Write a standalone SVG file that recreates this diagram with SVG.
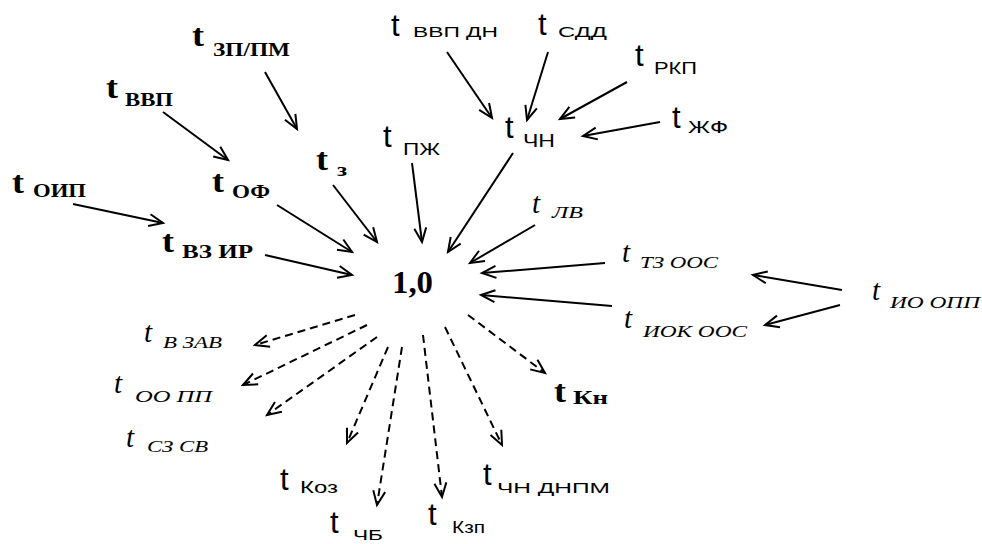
<svg xmlns="http://www.w3.org/2000/svg" width="982" height="544" viewBox="0 0 982 544">
<style>
.bg{fill:#fff}
.tb{font-family:"Liberation Serif",serif;font-weight:bold;font-size:32px;fill:#000}
.sb{font-family:"Liberation Serif",serif;font-weight:bold;font-size:18px;fill:#000}
.ts{font-family:"Liberation Sans",sans-serif;font-size:31px;fill:#000}
.ss{font-family:"Liberation Sans",sans-serif;fill:#000}
.ti{font-family:"Liberation Serif",serif;font-style:italic;font-size:29px;fill:#000}
.si{font-family:"Liberation Serif",serif;font-style:italic;font-size:16px;fill:#000}
.a{stroke:#000;stroke-width:2;fill:none;marker-end:url(#ah)}
.d{stroke:#000;stroke-width:2;fill:none;stroke-dasharray:8 5;marker-end:url(#ah)}
</style>
<defs>
<marker id="ah" markerUnits="userSpaceOnUse" markerWidth="30" markerHeight="30" viewBox="-15 -15 30 30" refX="0" refY="0" orient="auto" overflow="visible">
<path d="M-14,-6 L0,0 L-14,6" fill="none" stroke="#000" stroke-width="2" stroke-dasharray="none"/>
</marker>
</defs>
<rect class="bg" x="0" y="0" width="982" height="544"/>

<g id="connectors">
<line class="a" x1="265" y1="72" x2="297" y2="129"/>
<line class="a" x1="163" y1="112" x2="228" y2="160"/>
<line class="a" x1="73" y1="204" x2="163" y2="223"/>
<line class="a" x1="277" y1="205" x2="352" y2="252"/>
<line class="a" x1="265" y1="255" x2="352" y2="275"/>
<line class="a" x1="333" y1="185" x2="377" y2="242"/>
<line class="a" x1="412" y1="163" x2="422" y2="242"/>
<line class="a" x1="513" y1="153" x2="448" y2="252"/>
<line class="a" x1="535" y1="225" x2="470" y2="263"/>
<line class="a" x1="605" y1="263" x2="482" y2="273"/>
<line class="a" x1="612" y1="306" x2="481" y2="295"/>
<line class="a" x1="447" y1="52" x2="492" y2="118"/>
<line class="a" x1="548" y1="52" x2="527" y2="120"/>
<line class="a" x1="627" y1="82" x2="560" y2="119"/>
<line class="a" x1="660" y1="122" x2="583" y2="136"/>
<line class="a" x1="842" y1="290" x2="753" y2="275"/>
<line class="a" x1="840" y1="305" x2="765" y2="325"/>
<line class="d" x1="355" y1="315" x2="255" y2="345"/>
<line class="d" x1="367" y1="325" x2="243" y2="385"/>
<line class="d" x1="377" y1="337" x2="267" y2="415"/>
<line class="d" x1="388" y1="347" x2="347" y2="443"/>
<line class="d" x1="402" y1="347" x2="377" y2="505"/>
<line class="d" x1="423" y1="335" x2="442" y2="497"/>
<line class="d" x1="445" y1="327" x2="502" y2="445"/>
<line class="d" x1="468" y1="315" x2="545" y2="373"/>
</g>

<g id="center"><text class="tb" x="392" y="293" textLength="41" lengthAdjust="spacingAndGlyphs">1,0</text></g>

<g id="n-zppm"><text class="tb" x="192" y="46" textLength="12" lengthAdjust="spacingAndGlyphs">t</text><text class="sb" x="213" y="56" textLength="77" lengthAdjust="spacingAndGlyphs">ЗП/ПМ</text></g>
<g id="n-vvp"><text class="tb" x="106" y="98" textLength="12" lengthAdjust="spacingAndGlyphs">t</text><text class="sb" x="125" y="106" textLength="48" lengthAdjust="spacingAndGlyphs">ВВП</text></g>
<g id="n-oip"><text class="tb" x="12" y="193" textLength="12" lengthAdjust="spacingAndGlyphs">t</text><text class="sb" x="33" y="197" textLength="53" lengthAdjust="spacingAndGlyphs">ОИП</text></g>
<g id="n-of"><text class="tb" x="212" y="192" textLength="12" lengthAdjust="spacingAndGlyphs">t</text><text class="sb" x="232" y="198" textLength="38" lengthAdjust="spacingAndGlyphs">ОФ</text></g>
<g id="n-vzir"><text class="tb" x="162" y="252" textLength="12" lengthAdjust="spacingAndGlyphs">t</text><text class="sb" x="182" y="258" textLength="71" lengthAdjust="spacingAndGlyphs">ВЗ ИР</text></g>
<g id="n-z"><text class="tb" x="316" y="170" textLength="12" lengthAdjust="spacingAndGlyphs">t</text><text class="sb" x="337" y="176" textLength="10" lengthAdjust="spacingAndGlyphs">з</text></g>
<g id="n-kn"><text class="tb" x="554" y="402" textLength="12" lengthAdjust="spacingAndGlyphs">t</text><text class="sb" x="573" y="404" textLength="35" lengthAdjust="spacingAndGlyphs">Кн</text></g>

<g id="n-vvpdn"><text class="ts" x="391" y="36">t</text><text class="ss" x="413" y="37" font-size="14" textLength="85" lengthAdjust="spacingAndGlyphs">ВВП ДН</text></g>
<g id="n-sdd"><text class="ts" x="538" y="35">t</text><text class="ss" x="558" y="37" font-size="14" textLength="49" lengthAdjust="spacingAndGlyphs">СДД</text></g>
<g id="n-rkp"><text class="ts" x="635" y="66">t</text><text class="ss" x="654" y="74" font-size="17" textLength="43" lengthAdjust="spacingAndGlyphs">РКП</text></g>
<g id="n-zhf"><text class="ts" x="672" y="128">t</text><text class="ss" x="688" y="133" font-size="16" textLength="40" lengthAdjust="spacingAndGlyphs">ЖФ</text></g>
<g id="n-chn"><text class="ts" x="505" y="138">t</text><text class="ss" x="523" y="147" font-size="18" textLength="32" lengthAdjust="spacingAndGlyphs">ЧН</text></g>
<g id="n-pzh"><text class="ts" x="383" y="147">t</text><text class="ss" x="403" y="155" font-size="17" textLength="37" lengthAdjust="spacingAndGlyphs">ПЖ</text></g>
<g id="n-koz"><text class="ts" x="280" y="490">t</text><text class="ss" x="300" y="493" font-size="17" textLength="38" lengthAdjust="spacingAndGlyphs">Коз</text></g>
<g id="n-chb"><text class="ts" x="330" y="533">t</text><text class="ss" x="353" y="540" font-size="15" textLength="30" lengthAdjust="spacingAndGlyphs">ЧБ</text></g>
<g id="n-kzp"><text class="ts" x="428" y="525">t</text><text class="ss" x="452" y="533" font-size="17" textLength="33" lengthAdjust="spacingAndGlyphs">Кзп</text></g>
<g id="n-chndnpm"><text class="ts" x="483" y="485">t</text><text class="ss" x="497" y="493" font-size="15" textLength="113" lengthAdjust="spacingAndGlyphs">ЧН ДНПМ</text></g>

<g id="n-lv"><text class="ti" x="532" y="213">t</text><text class="si" x="552" y="218" textLength="31" lengthAdjust="spacingAndGlyphs">ЛВ</text></g>
<g id="n-tzoos"><text class="ti" x="622" y="262">t</text><text class="si" x="640" y="268" textLength="78" lengthAdjust="spacingAndGlyphs">ТЗ ООС</text></g>
<g id="n-iokoos"><text class="ti" x="624" y="328">t</text><text class="si" x="643" y="337" textLength="104" lengthAdjust="spacingAndGlyphs">ИОК ООС</text></g>
<g id="n-ioopp"><text class="ti" x="872" y="300">t</text><text class="si" x="890" y="308" textLength="90" lengthAdjust="spacingAndGlyphs">ИО ОПП</text></g>
<g id="n-vzav"><text class="ti" x="144" y="342">t</text><text class="si" x="163" y="348" textLength="59" lengthAdjust="spacingAndGlyphs">В ЗАВ</text></g>
<g id="n-oopp"><text class="ti" x="114" y="393">t</text><text class="si" x="135" y="402" textLength="77" lengthAdjust="spacingAndGlyphs">ОО ПП</text></g>
<g id="n-szsv"><text class="ti" x="126" y="447">t</text><text class="si" x="147" y="452" textLength="61" lengthAdjust="spacingAndGlyphs">СЗ СВ</text></g>
</svg>
